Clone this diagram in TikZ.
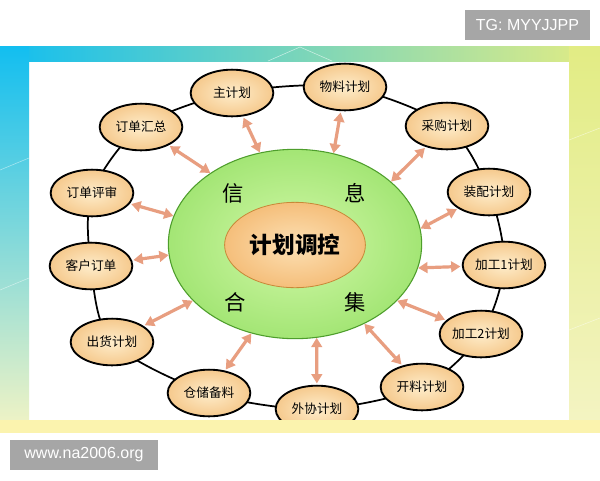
\documentclass[tikz,border=0pt]{standalone}
\usepackage{fontspec}
\setmainfont{Noto Sans CJK SC}
\setsansfont{Liberation Sans}
\usepackage{tikz}
\usetikzlibrary{shapes.geometric,arrows.meta,backgrounds}
\definecolor{planin}{HTML}{FEEDCB}
\definecolor{plancol}{HTML}{EFAE5E}
\definecolor{greenin}{HTML}{D2F8A8}
\definecolor{greenout}{HTML}{7CD64A}
\definecolor{greenedge}{HTML}{4E9E2C}
\definecolor{corein}{HTML}{FCE0B4}
\definecolor{coreout}{HTML}{EFA24A}
\definecolor{coreedge}{HTML}{C88838}
\definecolor{linkcol}{HTML}{E89E80}
\definecolor{frcyan}{HTML}{12BEF0}
\definecolor{frsky}{HTML}{52CAEC}
\definecolor{frmid}{HTML}{BCE6A8}
\definecolor{frlime}{HTML}{E2EC84}
\definecolor{frpale}{HTML}{F4F4C4}
\definecolor{fryellow}{HTML}{FBF3AE}
\definecolor{markgray}{HTML}{A6A6A6}
\pgfdeclareradialshading{plansh}{\pgfpoint{0bp}{0bp}}{color(0bp)=(planin); color(44bp)=(plancol); color(50bp)=(plancol)}
\pgfdeclareradialshading{greensh}{\pgfpoint{0bp}{0bp}}{color(0bp)=(greenin); color(46bp)=(greenout); color(50bp)=(greenout)}
\pgfdeclareradialshading{coresh}{\pgfpoint{0bp}{0bp}}{color(0bp)=(corein); color(46bp)=(coreout); color(50bp)=(coreout)}

\begin{document}
\begin{tikzpicture}
  [x=0.75pt,y=-0.75pt,
   plan/.style={ellipse,draw=black,line width=1.4pt,shading=plansh,
     minimum width=62pt,minimum height=35pt,inner sep=0pt,
     font=\fontsize{9.5}{11}\selectfont},
   link/.style={{Triangle[length=7pt,width=8pt]}-{Triangle[length=7pt,width=8pt]},
     line width=2.4pt,draw=linkcol,shorten <=1pt},
   ring/.style={line width=1.3pt},
   word/.style={font=\fontsize{16}{18}\selectfont},
   wmark/.style={fill=markgray,text=white,inner sep=0pt,
     font=\sffamily\fontsize{12}{14}\selectfont}]
  \useasboundingbox (0,0) rectangle (600,480);

  % centre
  \node[ellipse,draw=greenedge,line width=0.8pt,shading=greensh,
    minimum width=190pt,minimum height=142pt] (info) at (295,244) {};
  \node[ellipse,draw=coreedge,line width=0.6pt,shading=coresh,
    minimum width=101pt,minimum height=64pt,
    font=\bfseries\fontsize{17}{20}\selectfont] (core) at (295,245) {计划调控};
  \node[word] (w1) at (233,193) {信};
  \node[word] (w2) at (355,193) {息};
  \node[word] (w3) at (235,302) {合};
  \node[word] (w4) at (355,302) {集};

  % plans round the ring
  \node[plan] (n1) at (141,127) {订单汇总};
  \node[plan] (n2) at (232,93)  {主计划};
  \node[plan] (n3) at (345,87)  {物料计划};
  \node[plan] (n4) at (447,126) {采购计划};
  \node[plan] (n5) at (489,192) {装配计划};
  \node[plan] (n6) at (504,265) {加工1计划};
  \node[plan] (n7) at (481,334) {加工2计划};
  \node[plan] (n8) at (422,387) {开料计划};
  \node[plan] (n9) at (317,409) {外协计划};
  \node[plan] (n10) at (209,393) {仓储备料};
  \node[plan] (n11) at (112,342) {出货计划};
  \node[plan] (n12) at (91,266)  {客户订单};
  \node[plan] (n13) at (92,193)  {订单评审};

  \begin{scope}[on background layer]
    \fill[white] (0,0) rectangle (600,480);
    \draw[ring] plot[smooth cycle] coordinates
      {(n1) (n2) (n3) (n4) (n5) (n6) (n7) (n8) (n9) (n10) (n11) (n12) (n13)};
  \end{scope}

  \foreach \n/\a in {n1/140,n2/111,n3/67,n4/33,n5/7,n6/349,n7/331,
                     n8/311,n9/283,n10/244,n11/209,n12/185,n13/167}
    \draw[link] (\n) -- (info.\a);

  % frame
  \shade[left color=frcyan,middle color=frmid,right color=frlime] (0,46) rectangle (600,61);
  \shade[top color=frcyan,middle color=frsky,bottom color=frpale] (0,46) rectangle (29,433);
  \shade[top color=frlime,bottom color=frpale] (569,46) rectangle (600,433);
  \fill[fryellow] (0,420) rectangle (600,433);
  \fill[white] (0,433) rectangle (600,438);
  \draw[white,opacity=0.6] (268,61) -- (300,47) -- (332,61);
  \draw[white,opacity=0.5] (0,170) -- (29,158) (0,290) -- (29,278)
    (569,140) -- (600,128) (569,330) -- (600,318);

  \node[wmark,minimum width=93.75pt,minimum height=22.5pt] (tg) at (527.5,25) {TG: MYYJJPP};
  \node[wmark,minimum width=111pt,minimum height=22.5pt] (site) at (84,455) {www.na2006.org};
\end{tikzpicture}
\end{document}
